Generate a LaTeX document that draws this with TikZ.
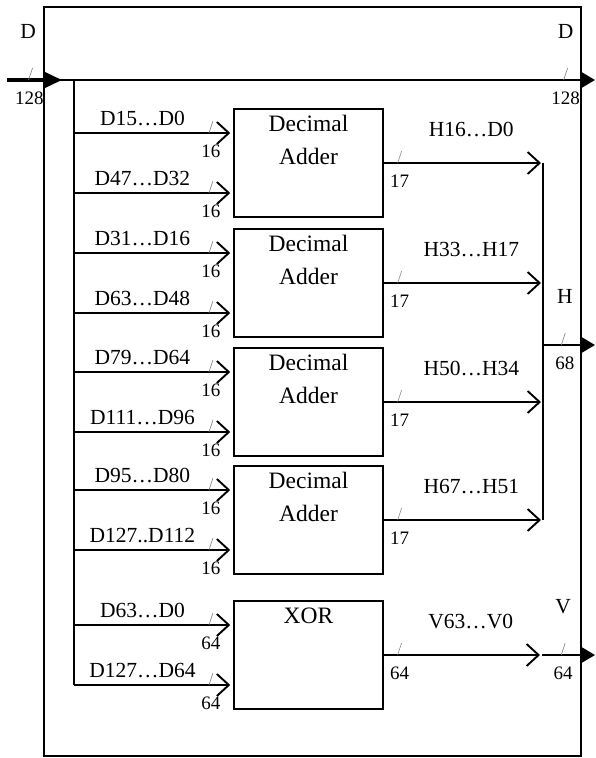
\documentclass[tikz,border=0pt]{standalone}
\usepackage{fontspec}
\setmainfont{Liberation Serif}
\usetikzlibrary{arrows.meta,positioning}

\begin{document}
\begin{tikzpicture}[x=1pt,y=-1pt,
  block/.style={draw,line width=1.5pt,minimum width=149pt,minimum height=108pt,inner sep=0},
  blocktext/.style={align=center,inner sep=0,font=\fontsize{23.5}{33}\selectfont},
  wire/.style={line width=1.9pt,-{Straight Barb[length=12pt,width=22pt]},shorten >=3pt},
  bus/.style={line width=2pt},
  port/.style={line width=2.2pt,-{Triangle[length=14pt,width=16pt]}},
  lbl/.style={pos=.43,above=6pt,inner sep=0,font=\fontsize{21.5}{24}\selectfont},
  olbl/.style={pos=.55,above=25pt,inner sep=0,font=\fontsize{21.5}{24}\selectfont},
  pin/.style={above=40pt,inner sep=0,font=\fontsize{21.5}{24}\selectfont},
  wnum/.style={pos=.86,below=11pt,inner sep=0,font=\fontsize{19}{20}\selectfont},
  wmark/.style={pos=.86,anchor=south,minimum width=4pt,minimum height=12pt,inner sep=0,outer sep=0}]
\useasboundingbox (0,0) rectangle (595,758);
\coordinate (0) at (7,80);
\coordinate (1) at (62,80);
\coordinate (2) at (74,80);
\coordinate (3) at (595,80);
\coordinate (4) at (74,685);
\node[block] (5) at (308.5,163) {};
\node[block] (6) at (308.5,283) {};
\node[block] (7) at (308.5,402) {};
\node[block] (8) at (308.5,520) {};
\node[block] (9) at (308.5,655) {};
\node[blocktext,below=7pt of 5.north] (10) {Decimal\\Adder};
\node[blocktext,below=7pt of 6.north] (11) {Decimal\\Adder};
\node[blocktext,below=7pt of 7.north] (12) {Decimal\\Adder};
\node[blocktext,below=7pt of 8.north] (13) {Decimal\\Adder};
\node[blocktext,below=7pt of 9.north] (14) {XOR};
\coordinate (15) at (543,163);
\coordinate (16) at (543,520);
\coordinate (17) at (543,345);
\coordinate (18) at (595,345);
\coordinate (19) at (542,655);
\coordinate (20) at (595,655);
\coordinate (21) at (74,133);
\coordinate (22) at (74,193);
\coordinate (23) at (74,253);
\coordinate (24) at (74,313);
\coordinate (25) at (74,372);
\coordinate (26) at (74,432);
\coordinate (27) at (74,490);
\coordinate (28) at (74,550);
\coordinate (29) at (74,625);
\coordinate (30) at (74,685);
% frame
\draw[line width=1.1pt] (44,7) rectangle (581,756);
% D in and out
\draw[port] (0) -- node[pin,pos=.036]{D} node[wmark,pos=.04] (31) {} node[wnum,pos=.038]{128}
  node[pin,pos=.95]{D} node[wmark,pos=.95] (32) {} node[wnum,pos=.95]{128} (3);
\draw[line width=3.5pt,-{Triangle[length=17pt,width=15pt]}] (0) -- (1);
\draw[bus] (2) -- (4);
% inputs
\draw[wire] (21) -- node[lbl]{D15…D0} node[wmark] (33) {} node[wnum]{16} (21 -| 5.west);
\draw[wire] (22) -- node[lbl]{D47…D32} node[wmark] (34) {} node[wnum]{16} (22 -| 5.west);
\draw[wire] (23) -- node[lbl]{D31…D16} node[wmark] (35) {} node[wnum]{16} (23 -| 6.west);
\draw[wire] (24) -- node[lbl]{D63…D48} node[wmark] (36) {} node[wnum]{16} (24 -| 6.west);
\draw[wire] (25) -- node[lbl]{D79…D64} node[wmark] (37) {} node[wnum]{16} (25 -| 7.west);
\draw[wire] (26) -- node[lbl]{D111…D96} node[wmark] (38) {} node[wnum]{16} (26 -| 7.west);
\draw[wire] (27) -- node[lbl]{D95…D80} node[wmark] (39) {} node[wnum]{16} (27 -| 8.west);
\draw[wire] (28) -- node[lbl]{D127..D112} node[wmark] (40) {} node[wnum]{16} (28 -| 8.west);
\draw[wire] (29) -- node[lbl]{D63…D0} node[wmark] (41) {} node[wnum]{64} (29 -| 9.west);
\draw[wire] (30) -- node[lbl]{D127…D64} node[wmark] (42) {} node[wnum]{64} (30 -| 9.west);
% outputs
\draw[wire,shorten >=2pt] (5.east) -- node[olbl]{H16…D0} node[wmark,pos=.1] (43) {} node[wnum,pos=.1]{17} (5.east -| 15);
\draw[wire,shorten >=2pt] (6.east) -- node[olbl]{H33…H17} node[wmark,pos=.1] (44) {} node[wnum,pos=.1]{17} (6.east -| 15);
\draw[wire,shorten >=2pt] (7.east) -- node[olbl]{H50…H34} node[wmark,pos=.1] (45) {} node[wnum,pos=.1]{17} (7.east -| 15);
\draw[wire,shorten >=2pt] (8.east) -- node[olbl]{H67…H51} node[wmark,pos=.1] (46) {} node[wnum,pos=.1]{17} (8.east -| 15);
\draw[wire,shorten >=2pt] (9.east) -- node[olbl]{V63…V0} node[wmark,pos=.1] (47) {} node[wnum,pos=.1]{64} (9.east -| 19);
\draw[bus] (15) -- (16);
\draw[port] (17) -- node[pin,pos=.42]{H} node[wmark,pos=.39] (48) {} node[wnum,pos=.42]{68} (18);
\draw[port] (19) -- node[pin,pos=.4]{V} node[wmark,pos=.4] (49) {} node[wnum,pos=.4]{64} (20);
% width marks
\foreach \m in {31,...,49}
  \draw[gray,line width=.6pt] (\m.south west) -- (\m.north east);
\end{tikzpicture}
\end{document}
